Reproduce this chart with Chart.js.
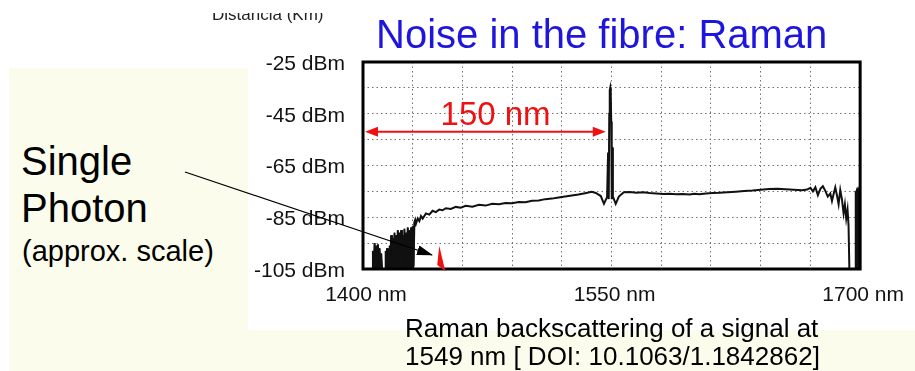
<!DOCTYPE html>
<html>
<head>
<meta charset="utf-8">
<script src="https://cdn.jsdelivr.net/npm/chart.js@4.4.1/dist/chart.umd.min.js"></script>
<style>
  html, body { margin: 0; padding: 0; }
  body { width: 915px; height: 371px; overflow: hidden; position: relative; background: #fff;
         font-family: "Liberation Sans", Arial, sans-serif; color: #000; }
  .pale { position: absolute; background: #fcfcec; }
  .txt { position: absolute; white-space: nowrap; line-height: 1; }
  #plot { position: absolute; left: 248px; top: 13px; width: 667px; height: 317px; background: #fff; }
  #clip { position: absolute; left: 200px; top: 13px; width: 150px; height: 14px; overflow: hidden; }
  svg { position: absolute; left: 0; top: 0; }
</style>
</head>
<body>
<div class="pale" style="left:9px;top:68px;width:239px;height:303px"></div>
<div class="pale" style="left:248px;top:330px;width:667px;height:41px"></div>
<div class="pale" style="left:508px;top:13px;width:407px;height:17px"></div>
<div id="plot"><canvas id="chart" width="667" height="317"></canvas></div>
<div id="clip"><div class="txt" style="left:12px;top:-7px;font-size:17px;color:#222">Distancia (Km)</div></div>
<div class="txt" style="left:376px;top:14px;font-size:40px;color:#1e16dc">Noise in the fibre: Raman</div>
<div class="txt" style="left:21px;top:138px;font-size:40px;line-height:47px">Single<br>Photon</div>
<div class="txt" style="left:22px;top:237px;font-size:29px">(approx. scale)</div>
<div class="txt" style="left:405px;top:314px;font-size:26px;line-height:28px">Raman backscattering of a signal at<br>1549 nm [ DOI: 10.1063/1.1842862]</div>
<svg width="915" height="371">
  <defs>
    <marker id="head" markerWidth="16" markerHeight="10" refX="15" refY="5" orient="auto" markerUnits="userSpaceOnUse">
      <path d="M0,0 L16,5 L0,10 z" fill="#000"/>
    </marker>
  </defs>
  <line x1="185" y1="172" x2="432" y2="255" stroke="#000" stroke-width="1.3" marker-end="url(#head)"/>
</svg>
<script>
// OSA trace: Raman backscattering of a 1549 nm signal
const wavelengthNm = [
  1400, 1405.5, 1406, 1406.5, 1407, 1407.5, 1408, 1408.5, 1409, 1409.5, 1410, 1410.5, 1411, 1411.5,
  1413.3, 1413.7, 1414.1, 1414.5, 1414.9, 1415.3, 1415.7, 1416.1, 1416.5, 1417, 1417.5, 1418, 1418.5,
  1419, 1419.5, 1420, 1420.5, 1421, 1421.5, 1422, 1422.5, 1423, 1423.5, 1424, 1424.5, 1425, 1425.5,
  1426, 1426.5, 1427, 1427.5, 1428, 1428.5, 1429, 1429.5, 1430, 1430.5, 1431,
  1431.5, 1432, 1433, 1434, 1435, 1436, 1438, 1440, 1442, 1444, 1446, 1448, 1450, 1453, 1456, 1459,
  1462, 1466, 1470, 1474, 1478, 1482, 1486, 1490, 1494, 1498, 1502, 1506, 1510, 1514, 1518, 1522,
  1526, 1530, 1534, 1538, 1540.5, 1543.5, 1545.4, 1547.3, 1547.9, 1548.3, 1548.6, 1548.9, 1549.2,
  1549.5, 1549.8, 1550.1, 1550.4, 1550.8, 1552.5, 1554.4, 1557.4, 1561, 1565, 1569, 1573, 1577, 1581,
  1585, 1589, 1593, 1597,
  1600, 1603, 1607, 1611, 1615, 1620, 1625, 1630, 1635, 1640, 1645, 1650, 1655, 1660, 1665, 1668,
  1670, 1671.5, 1673, 1674.5, 1676, 1677.5, 1679, 1680.5, 1682, 1683, 1684, 1685, 1686, 1687, 1688,
  1689, 1690, 1690.8, 1691.6, 1692.4, 1693, 1693.5, 1697, 1697.2, 1697.5, 1697.8, 1698.1, 1698.4,
  1698.7, 1699, 1699.3, 1699.6, 1699.8, 1700
];
const powerDbm = [
  -105, -105, -98, -104, -95, -103, -96, -105, -95.5, -102, -97, -104, -99, -105,
  -105, -98, -104, -97, -105, -98, -104, -96, -103, -92, -101, -93, -104,
  -91, -100, -92, -103, -90, -99, -91, -104, -90, -98, -92, -104, -89.5, -100,
  -91, -103, -89, -97, -90, -104, -89, -99, -88.5, -104, -87,
  -86, -87.5, -85.5, -86.5, -84.5, -85.5, -83.5, -84, -82.5, -83, -82, -82.3, -81.5, -81.8, -81, -81.3,
  -80.6, -80.9, -80.2, -80.5, -79.8, -80, -79.5, -79.6, -79.1, -79.2, -78.6, -78.5, -78, -77.8, -77.4, -77,
  -76.6, -76.2, -75.7, -75.2, -75.6, -76.8, -79.8, -77.2, -60, -78, -45, -36, -35,
  -37, -48, -78, -58, -77, -79.8, -77, -75.3, -75.2, -75.5, -75.3, -75.6, -75.8, -76,
  -75.9, -76.1, -76, -76.2,
  -75.9, -76.1, -75.8, -75.6, -75.5, -75.3, -75.1, -74.9, -74.7, -74.4, -74.1, -74, -74.2, -74.4, -74.6, -74.3,
  -73.6, -75, -73.4, -76.5, -74, -73, -74.8, -77, -75.8, -78.7, -76, -73.5, -76.5, -80, -74.5,
  -78, -83.5, -80, -85.5, -82, -88, -105, -105, -75, -76, -75, -76, -75,
  -76, -75, -76, -75, -75, -105
];
const xTickLabels = [1400, 1550, 1700];
const yTickLabels = [-25, -45, -65, -85, -105];

// annotations
const SPAN_FROM = 1400, SPAN_TO = 1546.5, SPAN_DBM = -52, SPAN_TEXT = "150 nm", SPAN_TEXT_NM = 1480;
const PHOTON_NM = 1446, PHOTON_DBM = -96;
const BURST_END_NM = 1431, END_BAR_NM = 1697;

const RED = "#ee1111";
const FONT = "'Liberation Sans', Arial, sans-serif";

const overlay = {
  id: "overlay",
  afterDatasetsDraw(chart) {
    const { ctx, chartArea: a, scales: { x, y } } = chart;
    ctx.save();
    // frame
    ctx.strokeStyle = "#000";
    ctx.lineWidth = 3;
    ctx.strokeRect(a.left, a.top, a.right - a.left, a.bottom - a.top);

    // 150 nm span arrow
    const ay = y.getPixelForValue(SPAN_DBM);
    const x0 = x.getPixelForValue(SPAN_FROM) + 2;
    const x1 = x.getPixelForValue(SPAN_TO);
    ctx.strokeStyle = RED;
    ctx.fillStyle = RED;
    ctx.lineWidth = 2;
    ctx.beginPath();
    ctx.moveTo(x0 + 10, ay);
    ctx.lineTo(x1 - 10, ay);
    ctx.stroke();
    ctx.beginPath();
    ctx.moveTo(x0, ay); ctx.lineTo(x0 + 13, ay - 5); ctx.lineTo(x0 + 13, ay + 5); ctx.closePath();
    ctx.moveTo(x1, ay); ctx.lineTo(x1 - 13, ay - 5); ctx.lineTo(x1 - 13, ay + 5); ctx.closePath();
    ctx.fill();
    ctx.font = "33px " + FONT;
    ctx.textAlign = "center";
    ctx.textBaseline = "alphabetic";
    ctx.fillText(SPAN_TEXT, x.getPixelForValue(SPAN_TEXT_NM), ay - 7);

    // single photon level marker
    const px = x.getPixelForValue(PHOTON_NM);
    const py = y.getPixelForValue(PHOTON_DBM);
    ctx.beginPath();
    ctx.moveTo(px, py);
    ctx.lineTo(px + 6, a.bottom + 2);
    ctx.lineTo(px - 2, a.bottom - 4);
    ctx.closePath();
    ctx.fill();
    ctx.restore();
  }
};

const trace = wavelengthNm.map((w, i) => ({ x: w, y: powerDbm[i] }));

function solid(points) {
  return {
    data: points,
    borderColor: "#111",
    backgroundColor: "#111",
    borderWidth: 1,
    pointRadius: 0,
    tension: 0,
    fill: { value: -105 },
  };
}

new Chart(document.getElementById("chart"), {
  type: "line",
  data: {
    datasets: [
      // saturated noise bursts at the short end, and the bar at the long end
      solid(trace.filter((p) => p.x <= BURST_END_NM)),
      solid(trace.filter((p) => p.x >= END_BAR_NM)),
      {
        data: trace,
        borderColor: "#111",
        borderWidth: 2,
        pointRadius: 0,
        tension: 0,
        fill: false,
      },
    ],
  },
  options: {
    responsive: false,
    animation: false,
    devicePixelRatio: 1,
    layout: { padding: { top: 49, right: 53, left: 0, bottom: 0 } },
    plugins: { legend: { display: false }, tooltip: { enabled: false } },
    scales: {
      x: {
        type: "linear", min: 1400, max: 1700,
        afterFit: (s) => { s.height = 61; },
        ticks: {
          stepSize: 30, autoSkip: false, maxRotation: 0, padding: 14, labelOffset: 3,
          color: "#111", font: { family: FONT, size: 21 },
          callback: (v) => (xTickLabels.includes(v) ? v + " nm" : ""),
        },
        grid: { color: "#707070", lineWidth: 1, drawTicks: false },
        border: { display: false, dash: [1.5, 3] },
      },
      y: {
        min: -105, max: -25,
        afterFit: (s) => { s.width = 115; },
        ticks: {
          stepSize: 10, autoSkip: false, padding: 18, labelOffset: 2,
          color: "#111", font: { family: FONT, size: 21 },
          callback: (v) => (yTickLabels.includes(v) ? v + " dBm" : ""),
        },
        grid: { color: "#707070", lineWidth: 1, drawTicks: false },
        border: { display: false, dash: [1.5, 3] },
      },
    },
  },
  plugins: [overlay],
});
</script>
</body>
</html>
